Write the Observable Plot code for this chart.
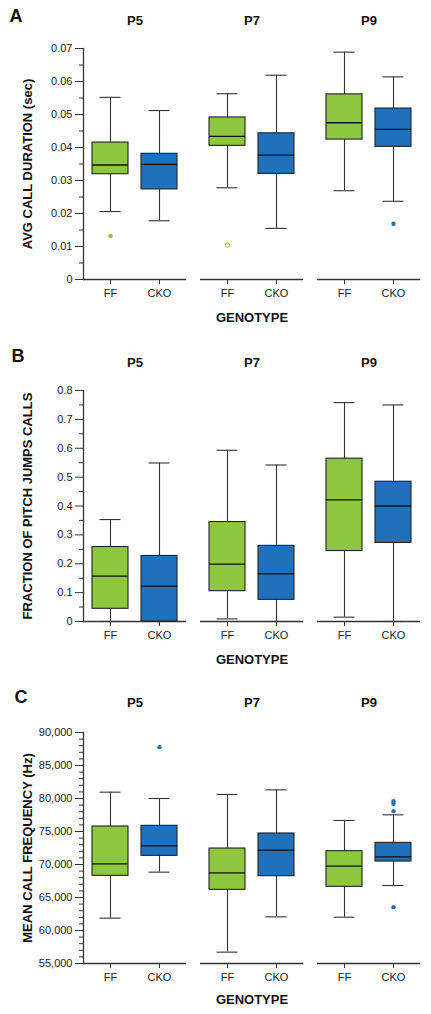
<!DOCTYPE html>
<html>
<head>
<meta charset="utf-8">
<script src="https://cdn.jsdelivr.net/npm/d3@7"></script>
<script src="https://cdn.jsdelivr.net/npm/@observablehq/plot@0.6"></script>
<style>
  html, body { margin: 0; padding: 0; background: #fff; }
  #wrap { width: 431px; }
  #wrap > div > svg { display: block; }
</style>
</head>
<body>
<div id="wrap"><div id="pa"></div><div id="pb"></div><div id="pc"></div></div>
<script>
// ---- categories ----
const ages = ["P5", "P7", "P9"];
const genotypes = ["FF", "CKO"];
// group order: P5 FF, P5 CKO, P7 FF, P7 CKO, P9 FF, P9 CKO
const groupAge = ["P5", "P5", "P7", "P7", "P9", "P9"];
const groupGeno = ["FF", "CKO", "FF", "CKO", "FF", "CKO"];

// ---- Panel A: avg call duration (sec) ----
const durLo  = [0.0206, 0.0178, 0.0278, 0.0155, 0.0269, 0.0237];
const durQ1  = [0.0319, 0.0273, 0.0405, 0.0320, 0.0424, 0.0402];
const durMed = [0.0347, 0.0349, 0.0434, 0.0377, 0.0475, 0.0455];
const durQ3  = [0.0415, 0.0381, 0.0491, 0.0443, 0.0561, 0.0518];
const durHi  = [0.0552, 0.0512, 0.0563, 0.0619, 0.0689, 0.0614];
const durOutAge = ["P5", "P7", "P9"];
const durOutGeno = ["FF", "FF", "CKO"];
const durOutVal = [0.0132, 0.0104, 0.0169];
const durOutFilled = [true, false, true];
const durTicks = [0, 0.01, 0.02, 0.03, 0.04, 0.05, 0.06, 0.07];
const durTickLabels = ["0", "0.01", "0.02", "0.03", "0.04", "0.05", "0.06", "0.07"];
const durMinor = [0.005, 0.015, 0.025, 0.035, 0.045, 0.055, 0.065];

// ---- Panel B: fraction of pitch jumps calls ----
const pjLo  = [0, 0, 0.009, 0, 0.015, 0];
const pjQ1  = [0.044, 0, 0.105, 0.075, 0.244, 0.272];
const pjMed = [0.157, 0.1225, 0.199, 0.165, 0.421, 0.400];
const pjQ3  = [0.258, 0.227, 0.3445, 0.262, 0.564, 0.484];
const pjHi  = [0.353, 0.549, 0.593, 0.542, 0.758, 0.750];
const pjOutAge = [];
const pjOutGeno = [];
const pjOutVal = [];
const pjOutFilled = [];
const pjTicks = [0, 0.1, 0.2, 0.3, 0.4, 0.5, 0.6, 0.7, 0.8];
const pjTickLabels = ["0", "0.1", "0.2", "0.3", "0.4", "0.5", "0.6", "0.7", "0.8"];
const pjMinor = [0.05, 0.15, 0.25, 0.35, 0.45, 0.55, 0.65, 0.75];

// ---- Panel C: mean call frequency (Hz) ----
const mfLo  = [61870, 68840, 56720, 62070, 62020, 66820];
const mfQ1  = [68280, 71310, 66160, 68230, 66620, 70450];
const mfMed = [70100, 72830, 68740, 72170, 69750, 71160];
const mfQ3  = [75760, 75860, 72420, 74700, 72020, 73280];
const mfHi  = [80960, 80000, 80610, 81310, 76670, 77530];
const mfOutAge = ["P5", "P9", "P9", "P9", "P9"];
const mfOutGeno = ["CKO", "CKO", "CKO", "CKO", "CKO"];
const mfOutVal = [87780, 79600, 79190, 78080, 63540];
const mfOutFilled = [true, true, true, true, true];
const mfTicks = [55000, 60000, 65000, 70000, 75000, 80000, 85000, 90000];
const mfTickLabels = ["55,000", "60,000", "65,000", "70,000", "75,000", "80,000", "85,000", "90,000"];
const mfMinor = [56000, 57000, 58000, 59000, 61000, 62000, 63000, 64000, 66000, 67000, 68000, 69000,
                 71000, 72000, 73000, 74000, 76000, 77000, 78000, 79000, 81000, 82000, 83000, 84000,
                 86000, 87000, 88000, 89000];

const GREEN = "#8dc63f";
const BLUE = "#1f71bb";
const FONT = "'Liberation Sans', Arial, Helvetica, sans-serif";

function makePanel(cfg) {
  const rows = groupAge.map((a, i) => ({
    age: a, geno: groupGeno[i],
    lo: cfg.lo[i], q1: cfg.q1[i], med: cfg.med[i], q3: cfg.q3[i], hi: cfg.hi[i]
  }));
  const outs = cfg.outAge.map((a, i) => ({
    age: a, geno: cfg.outGeno[i], v: cfg.outVal[i], filled: cfg.outFilled[i]
  }));
  const labelMap = new Map(cfg.ticks.map((t, i) => [t, cfg.tickLabels[i]]));
  return Plot.plot({
    width: 431,
    height: cfg.height,
    marginTop: cfg.mt,
    marginBottom: cfg.mb,
    marginLeft: 82,
    marginRight: 10,
    style: {fontFamily: FONT, fontSize: "11px", color: "#222", overflow: "visible", background: "#fff"},
    fx: {domain: ages, paddingInner: 0.12, paddingOuter: 0, axis: null, label: null},
    x: {domain: genotypes, paddingInner: 0.26, paddingOuter: 0.17, label: null},
    y: {domain: cfg.domain, label: null},
    color: {domain: genotypes, range: [GREEN, BLUE]},
    marks: [
      // axis lines
      Plot.ruleY([cfg.domain[0]], {stroke: "#333", strokeWidth: 1.3}),
      Plot.frame({anchor: "left", facetAnchor: "left", stroke: "#333", strokeWidth: 1.3}),
      // whiskers
      Plot.ruleX(rows, {fx: "age", x: "geno", y1: "lo", y2: "hi", stroke: "#333", strokeWidth: 1.1}),
      Plot.tickY(rows, {fx: "age", x: "geno", y: "lo", insetLeft: 7.5, insetRight: 7.5, stroke: "#333", strokeWidth: 1.1}),
      Plot.tickY(rows, {fx: "age", x: "geno", y: "hi", insetLeft: 7.5, insetRight: 7.5, stroke: "#333", strokeWidth: 1.1}),
      // boxes
      Plot.barY(rows, {fx: "age", x: "geno", y1: "q1", y2: "q3", fill: "geno", stroke: "#222", strokeWidth: 1.1}),
      Plot.tickY(rows, {fx: "age", x: "geno", y: "med", stroke: "#111", strokeWidth: 1.3}),
      // outliers
      Plot.dot(outs.filter(d => d.filled), {fx: "age", x: "geno", y: "v", r: 2.2, fill: "geno", stroke: null}),
      Plot.dot(outs.filter(d => !d.filled), {fx: "age", x: "geno", y: "v", r: 2.2, fill: "white", stroke: "geno", strokeWidth: 1}),
      // axes
      Plot.axisY(cfg.ticks, {tickSize: 8, tickPadding: 3, fontSize: 11, stroke: "#333", fill: "#222",
        tickFormat: d => labelMap.get(d), label: null}),
      Plot.axisY(cfg.minor, {tickSize: 4, tickFormat: () => "", stroke: "#333", label: null}),
      Plot.axisX({tickSize: 5, tickPadding: 5, fontSize: 11, stroke: "#333", fill: "#222", label: null}),
      // texts
      Plot.text(ages, {fx: d => d, text: d => d, frameAnchor: "top", lineAnchor: "middle", dy: cfg.titleDy,
        fontSize: 13, fontWeight: "bold", fill: "#111"}),
      Plot.text([cfg.letter], {fx: () => "P5", text: d => d, frameAnchor: "top-left", textAnchor: "start",
        lineAnchor: "middle", dx: cfg.letterDx, dy: cfg.letterDy, fontSize: 18, fontWeight: "bold", fill: "#111"}),
      Plot.text([cfg.ylabel], {fx: () => "P5", text: d => d, frameAnchor: "left", textAnchor: "middle",
        lineAnchor: "middle", rotate: -90, dx: -56, fontSize: 13, fontWeight: "bold", fill: "#111"}),
      Plot.text(["GENOTYPE"], {fx: () => "P7", text: d => d, frameAnchor: "bottom", lineAnchor: "middle",
        dy: cfg.xlabDy, fontSize: 13, fontWeight: "bold", fill: "#111"})
    ]
  });
}

document.getElementById("pa").append(makePanel({
  height: 330, mt: 48, mb: 51, domain: [0, 0.07],
  lo: durLo, q1: durQ1, med: durMed, q3: durQ3, hi: durHi,
  outAge: durOutAge, outGeno: durOutGeno, outVal: durOutVal, outFilled: durOutFilled,
  ticks: durTicks, tickLabels: durTickLabels, minor: durMinor,
  letter: "A", letterDx: -74, letterDy: -32, titleDy: -28, xlabDy: 38,
  ylabel: "AVG CALL DURATION (sec)"
}));
document.getElementById("pb").append(makePanel({
  height: 340, mt: 60, mb: 49, domain: [0, 0.8],
  lo: pjLo, q1: pjQ1, med: pjMed, q3: pjQ3, hi: pjHi,
  outAge: pjOutAge, outGeno: pjOutGeno, outVal: pjOutVal, outFilled: pjOutFilled,
  ticks: pjTicks, tickLabels: pjTickLabels, minor: pjMinor,
  letter: "B", letterDx: -72, letterDy: -34, titleDy: -28, xlabDy: 38,
  ylabel: "FRACTION OF PITCH JUMPS CALLS"
}));
document.getElementById("pc").append(makePanel({
  height: 344, mt: 62, mb: 51, domain: [55000, 90000],
  lo: mfLo, q1: mfQ1, med: mfMed, q3: mfQ3, hi: mfHi,
  outAge: mfOutAge, outGeno: mfOutGeno, outVal: mfOutVal, outFilled: mfOutFilled,
  ticks: mfTicks, tickLabels: mfTickLabels, minor: mfMinor,
  letter: "C", letterDx: -69, letterDy: -35, titleDy: -30, xlabDy: 36,
  ylabel: "MEAN CALL FREQUENCY (Hz)"
}));
</script>
</body>
</html>
